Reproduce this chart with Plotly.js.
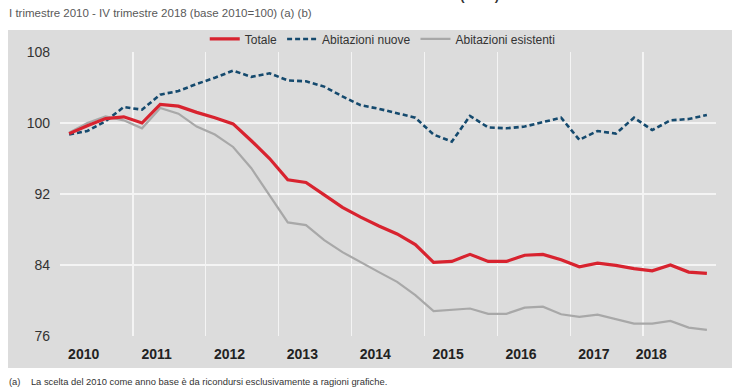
<!DOCTYPE html>
<html>
<head>
<meta charset="utf-8">
<script src="https://cdn.plot.ly/plotly-3.0.1.min.js"></script>
<style>html,body{margin:0;padding:0;background:#fff;}#chart{width:740px;height:389px;}</style>
</head>
<body>
<div id="chart"></div>
<script>
// Quarters: I 2010 ... IV 2018 (36 quarters)
const quarters = [];
for (let y = 2010; y <= 2018; y++) { for (let q = 1; q <= 4; q++) quarters.push(y + "Q" + q); }
const quarterPos = quarters.map((_, i) => i + 0.5);

const totale = [98.8, 99.7, 100.5, 100.7, 100.0, 102.1, 101.9, 101.2, 100.6, 99.9, 98.0, 96.0,
                93.6, 93.3, 91.9, 90.5, 89.4, 88.4, 87.5, 86.3, 84.3, 84.4, 85.2, 84.4,
                84.4, 85.1, 85.2, 84.6, 83.8, 84.2, 83.95, 83.6, 83.35, 84.0, 83.2, 83.05];
const nuove = [98.7, 99.1, 100.2, 101.8, 101.5, 103.2, 103.6, 104.4, 105.1, 105.9, 105.2, 105.6,
               104.8, 104.7, 104.1, 103.0, 102.0, 101.6, 101.1, 100.6, 98.7, 97.9, 100.8, 99.5,
               99.4, 99.6, 100.1, 100.6, 98.1, 99.1, 98.8, 100.6, 99.2, 100.3, 100.45, 100.9];
const esistenti = [98.9, 100.0, 100.75, 100.3, 99.4, 101.7, 101.05, 99.6, 98.7, 97.3, 94.9, 91.9,
                   88.8, 88.5, 86.8, 85.45, 84.3, 83.2, 82.1, 80.6, 78.8, 78.95, 79.1, 78.5,
                   78.5, 79.2, 79.3, 78.45, 78.15, 78.4, 77.9, 77.4, 77.4, 77.7, 76.95, 76.7];

const yearLabels = ["2010", "2011", "2012", "2013", "2014", "2015", "2016", "2017", "2018"];
const yearLabelPos = [1.3, 5.3, 9.3, 13.3, 17.3, 21.3, 25.3, 29.3, 32.45];
const yearBounds = [0, 4, 8, 12, 16, 20, 24, 28, 32, 36];
const yTicks = [76, 84, 92, 100, 108];
const baseValue = 100;

const seriesNames = ["Totale", "Abitazioni nuove", "Abitazioni esistenti"];

const narrow = '"Liberation Sans Narrow", "Arial Narrow", "Liberation Sans", Arial, sans-serif';
const sans = '"Liberation Sans", Arial, sans-serif';
const bg = '#dcdcdc';

const traces = [
  {x: quarterPos, y: esistenti, name: seriesNames[2], type: 'scatter', mode: 'lines',
   line: {color: '#a8a8a8', width: 2.2}, legendrank: 3},
  {x: quarterPos, y: nuove, name: seriesNames[1], type: 'scatter', mode: 'lines',
   line: {color: '#154a6e', width: 2.6, dash: '5px,3px'}, legendrank: 2},
  {x: quarterPos, y: totale, name: seriesNames[0], type: 'scatter', mode: 'lines',
   line: {color: '#d8232f', width: 3.2}, legendrank: 1}
];

const layout = {
  width: 740, height: 389,
  margin: {l: 60, r: 24, t: 52, b: 53, pad: 0},
  paper_bgcolor: '#ffffff',
  plot_bgcolor: bg,
  showlegend: true,
  legend: {orientation: 'h', x: 0.492, xanchor: 'center', y: 1.046, yanchor: 'middle',
           font: {family: narrow, size: 12, color: '#333'}, bgcolor: 'rgba(0,0,0,0)',
           traceorder: 'normal', itemwidth: 30},
  xaxis: {range: [0, 36], showgrid: false, zeroline: false, showline: false,
          tickmode: 'array', tickvals: yearLabelPos, ticktext: yearLabels, ticks: '',
          ticklabelstandoff: 8,
          tickfont: {family: narrow, size: 14, color: '#222', weight: 'bold'},
          minor: {tickmode: 'array', tickvals: yearBounds, showgrid: true, gridcolor: '#f4f4f4', gridwidth: 1.3, ticks: ''},
          fixedrange: true},
  yaxis: {range: [76, 108], tickmode: 'array', tickvals: yTicks, showgrid: true,
          gridcolor: '#f4f4f4', gridwidth: 1.3, zeroline: false, showline: false, ticks: '',
          ticklabelstandoff: 9,
          tickfont: {family: narrow, size: 14, color: '#333'}, fixedrange: true},
  shapes: [
    {type: 'rect', xref: 'paper', yref: 'paper', x0: -0.0793, x1: 1.0244, y0: -0.1127, y1: 1.0775,
     fillcolor: bg, line: {width: 0}, layer: 'below'},
    {type: 'line', xref: 'paper', yref: 'y', x0: 0, x1: 1, y0: baseValue, y1: baseValue,
     line: {color: '#808080', width: 1.2}, layer: 'below'}
  ],
  annotations: [
    {xref: 'paper', yref: 'paper', x: -0.0793, xanchor: 'left', y: 1.165, yanchor: 'bottom',
     showarrow: false, align: 'left',
     text: '<span style="color:#d8232f">FIGURA 1.</span> INDICI DEI PREZZI DELLE ABITAZIONI NUOVE ED ESISTENTI (IPAB)',
     font: {family: sans, size: 13, color: '#333', weight: 'bold'}},
    {xref: 'paper', yref: 'paper', x: -0.0808, xanchor: 'left', y: (336 - 13) / 284, yanchor: 'middle',
     showarrow: false, align: 'left',
     text: 'I trimestre 2010 - IV trimestre 2018 (base 2010=100) (a) (b)',
     font: {family: narrow, size: 11.5, color: '#595959'}},
    {xref: 'paper', yref: 'paper', x: -0.0808, xanchor: 'left', y: (336 - 381) / 284, yanchor: 'middle',
     showarrow: false, align: 'left',
     text: '(a)    La scelta del 2010 come anno base è da ricondursi esclusivamente a ragioni grafiche.',
     font: {family: narrow, size: 9.4, color: '#333'}}
  ]
};

Plotly.newPlot('chart', traces, layout, {displayModeBar: false, staticPlot: true});
</script>
</body>
</html>
